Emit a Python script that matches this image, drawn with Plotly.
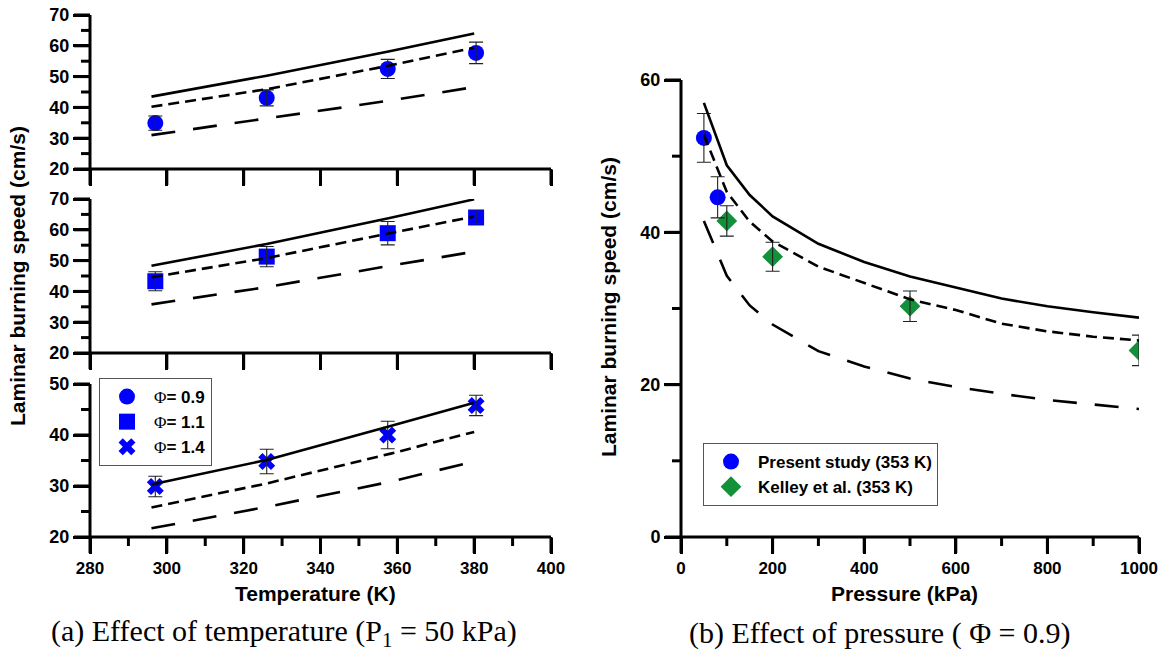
import plotly.graph_objects as go

W, H = 1165, 651

# ---------------- data: (a) effect of temperature (P = 50 kPa) ----------------
T_pts = [297, 326, 357.5, 380.5]
T_line = [296, 326, 358, 380]

# phi = 0.9
exp09 = [34.9, 43.1, 52.5, 57.7]
err09 = [2.3, 2.6, 3.1, 3.5]
solid09 = [43.5, 50.3, 58.2, 64.0]
sdash09 = [40.2, 45.9, 53.6, 59.4]
ldash09 = [31.0, 36.4, 42.2, 46.6]

# phi = 1.1
exp11 = [43.3, 51.3, 58.9, 64.0]
err11 = [3.1, 3.3, 3.8, 2.0]
solid11 = [48.3, 55.4, 63.8, 69.9]
sdash11 = [44.6, 50.8, 58.9, 64.3]
ldash11 = [35.8, 41.4, 48.3, 52.9]

# phi = 1.4
exp14 = [29.9, 34.8, 40.0, 45.8]
err14 = [2.0, 2.4, 2.7, 2.0]
solid14 = [30.3, 35.1, 41.7, 46.3]
sdash14 = [25.8, 30.5, 36.3, 40.6]
ldash14 = [21.7, 25.9, 30.8, 34.8]

# ---------------- data: (b) effect of pressure (phi = 0.9) ----------------
P_line = [50, 100, 150, 200, 300, 400, 500, 600, 700, 800, 900, 1000]
solidP = [57.0, 48.8, 44.9, 42.1, 38.5, 36.1, 34.2, 32.7, 31.3, 30.3, 29.5, 28.8]
sdashP = [52.8, 45.3, 41.4, 38.8, 35.5, 33.3, 31.2, 29.8, 28.0, 27.0, 26.3, 25.8]
ldashP = [41.5, 34.3, 30.4, 27.9, 24.4, 22.4, 20.8, 19.7, 18.8, 18.0, 17.4, 16.8]

P_present = [50, 80]
v_present = [52.4, 44.6]
e_present = [3.2, 2.7]

P_kelley = [100, 200, 500, 1000]
v_kelley = [41.5, 36.8, 30.3, 24.5]
e_kelley = [2.0, 1.9, 2.0, 2.0]

legend_left = ["Φ= 0.9", "Φ= 1.1", "Φ= 1.4"]
legend_right = ["Present study (353 K)", "Kelley et al. (353 K)"]

# ---------------- axis ranges and tick positions ----------------
T_range = [280, 400]
V70_range = [20, 70]
V50_range = [20, 50]
P_range = [0, 1000]
VP_range = [0, 60]
T_major = [280, 300, 320, 340, 360, 380, 400]
T_minor = [290, 310, 330, 350, 370, 390]
V70_major = [20, 30, 40, 50, 60, 70]
V70_minor = [25, 35, 45, 55, 65]
V50_major = [20, 30, 40, 50]
V50_minor = [25, 35, 45]
P_major = [0, 200, 400, 600, 800, 1000]
P_minor = [100, 300, 500, 700, 900]
VP_major = [0, 20, 40, 60]
VP_minor = [10, 30, 50]

# ---------------- styling ----------------
BLUE = "#0000FF"
GREEN = "#13903A"
FONT = "Liberation Sans"
SDASH = "11px,6px"
LDASH = "24px,18px"
LW = 2.6
MAJ, MIN = 16, 9

# plot-area pixel boxes: (left, right, top, bottom)
BOX_TOP = (90, 551, 15, 169)
BOX_MID = (90, 551, 199, 353)
BOX_BOT = (90, 551, 384, 537)
BOX_R = (681, 1139, 80, 537)


def phi_name(s):
    return ("<span style='font-family:Liberation Serif;font-weight:normal'>Φ</span>"
            + s[1:])


fig = go.Figure()

panels = [
    ("x", "y", exp09, err09, solid09, sdash09, ldash09, "circle", legend_left[0]),
    ("x2", "y2", exp11, err11, solid11, sdash11, ldash11, "square", legend_left[1]),
    ("x3", "y3", exp14, err14, solid14, sdash14, ldash14, "x", legend_left[2]),
]

for xa, ya, ex, er, so, sd, ld, sym, nm in panels:
    fig.add_trace(go.Scatter(
        x=T_pts, y=ex, xaxis=xa, yaxis=ya, mode="markers", name=phi_name(nm),
        marker=dict(symbol=sym, size=16 if sym != "x" else 15, color=BLUE,
                    line=dict(width=0)),
        legend="legend", showlegend=True))
    fig.add_trace(go.Scatter(
        x=T_pts, y=ex, xaxis=xa, yaxis=ya, mode="markers", showlegend=False,
        marker=dict(size=2, opacity=0),
        error_y=dict(type="data", array=er, color="#222222", thickness=1.1, width=7)))
    for vals, dash in ((so, "solid"), (sd, SDASH), (ld, LDASH)):
        fig.add_trace(go.Scatter(
            x=T_line, y=vals, xaxis=xa, yaxis=ya, mode="lines", showlegend=False,
            line=dict(color="black", width=LW, dash=dash)))

# right panel
fig.add_trace(go.Scatter(
    x=P_present, y=v_present, xaxis="x4", yaxis="y4", mode="markers",
    name=legend_right[0], legend="legend2",
    marker=dict(symbol="circle", size=16, color=BLUE)))
fig.add_trace(go.Scatter(
    x=P_kelley, y=v_kelley, xaxis="x4", yaxis="y4", mode="markers",
    name=legend_right[1], legend="legend2",
    marker=dict(symbol="diamond", size=16, color=GREEN)))
for px, pv, pe in ((P_present, v_present, e_present), (P_kelley, v_kelley, e_kelley)):
    fig.add_trace(go.Scatter(
        x=px, y=pv, xaxis="x4", yaxis="y4", mode="markers", showlegend=False,
        marker=dict(size=2, opacity=0),
        error_y=dict(type="data", array=pe, color="#222222", thickness=1.1, width=7)))
for vals, dash in ((solidP, "solid"), (sdashP, SDASH), (ldashP, LDASH)):
    fig.add_trace(go.Scatter(
        x=P_line, y=vals, xaxis="x4", yaxis="y4", mode="lines", showlegend=False,
        line=dict(color="black", width=LW, dash=dash)))


def px_x(p):
    return p / W


def px_y(p):
    return 1 - p / H


def xdom(box):
    return [px_x(box[0]), px_x(box[1])]


def ydom(box):
    return [px_y(box[3]), px_y(box[2])]


def axis(domain, rng, vals, anchor, labels=True, lblsize=17):
    # showline off (it hides outside ticks here); no minor (it hides ticks too)
    return dict(domain=domain, range=rng, anchor=anchor, showgrid=False, zeroline=False,
                showline=False, ticks="outside", ticklen=MAJ, tickwidth=3,
                tickcolor="black", tickmode="array", tickvals=vals,
                showticklabels=labels,
                tickfont=dict(family=FONT, size=lblsize, color="black", weight="bold"))


fig.update_layout(
    width=W, height=H, margin=dict(l=0, r=0, t=0, b=0, pad=0, autoexpand=False),
    paper_bgcolor="white", plot_bgcolor="white",
    xaxis=axis(xdom(BOX_TOP), T_range, T_major, "y", labels=False),
    yaxis=axis(ydom(BOX_TOP), V70_range, V70_major, "x", lblsize=18),
    xaxis2=axis(xdom(BOX_MID), T_range, T_major, "y2", labels=False),
    yaxis2=axis(ydom(BOX_MID), V70_range, V70_major, "x2", lblsize=18),
    xaxis3=axis(xdom(BOX_BOT), T_range, T_major, "y3"),
    yaxis3=axis(ydom(BOX_BOT), V50_range, V50_major, "x3", lblsize=18),
    xaxis4=axis(xdom(BOX_R), P_range, P_major, "y4"),
    yaxis4=axis(ydom(BOX_R), VP_range, VP_major, "x4", lblsize=18),
    legend=dict(x=px_x(99), y=px_y(378), xanchor="left", yanchor="top",
                bgcolor="white", bordercolor="#555555", borderwidth=1,
                font=dict(family=FONT, size=17, color="black", weight="bold"),
                itemsizing="trace", itemwidth=44, tracegroupgap=0),
    legend2=dict(x=px_x(703), y=px_y(443), xanchor="left", yanchor="top",
                 bgcolor="white", bordercolor="#555555", borderwidth=1,
                 font=dict(family=FONT, size=17, color="black", weight="bold"),
                 itemsizing="trace", itemwidth=44),
    showlegend=True,
)

# axis lines in domain coordinates; ticks in paper coordinates (never clipped)
shapes = []
LINE = dict(color="black", width=3)
subplots = [
    ("x", "y", BOX_TOP, T_range, V70_range, T_major, [], V70_major, V70_minor),
    ("x2", "y2", BOX_MID, T_range, V70_range, T_major, [], V70_major, V70_minor),
    ("x3", "y3", BOX_BOT, T_range, V50_range, T_major, T_minor, V50_major, V50_minor),
    ("x4", "y4", BOX_R, P_range, VP_range, P_major, P_minor, VP_major, VP_minor),
]
for xa, ya, box, xr_, yr_, xmaj, xmin, ymaj, ymin in subplots:
    L, R, T, B = box
    xd, yd = f"{xa} domain", f"{ya} domain"
    shapes.append(dict(type="line", xref=xd, yref=yd, x0=0, x1=0, y0=0, y1=1,
                       line=LINE, layer="above"))
    shapes.append(dict(type="line", xref=xd, yref=yd, x0=0, x1=1, y0=0, y1=0,
                       line=LINE, layer="above"))
    for vals, ln in ((xmaj, MAJ), (xmin, MIN)):
        for v in vals:
            pxv = L + (v - xr_[0]) / (xr_[1] - xr_[0]) * (R - L)
            shapes.append(dict(type="line", xref="paper", yref="paper",
                               x0=px_x(pxv), x1=px_x(pxv),
                               y0=px_y(B), y1=px_y(B + ln), line=LINE, layer="above"))
    for vals, ln in ((ymaj, MAJ), (ymin, MIN)):
        for v in vals:
            pyv = B - (v - yr_[0]) / (yr_[1] - yr_[0]) * (B - T)
            shapes.append(dict(type="line", xref="paper", yref="paper",
                               x0=px_x(L - ln), x1=px_x(L),
                               y0=px_y(pyv), y1=px_y(pyv), line=LINE, layer="above"))
fig.update_layout(shapes=shapes)

ann = []
title_font = dict(family=FONT, size=21, color="black", weight="bold")


def add_ann(text, x, y, font, angle=0):
    ann.append(dict(text=text, x=px_x(x), y=px_y(y), xref="paper", yref="paper",
                    xanchor="center", yanchor="middle", showarrow=False,
                    textangle=angle, font=font))


add_ann("Laminar burning speed (cm/s)", 18, 276, title_font, -90)
add_ann("Laminar burning speed (cm/s)", 608, 307, title_font, -90)
add_ann("Temperature (K)", 315, 593, title_font)
add_ann("Pressure (kPa)", 904, 593, title_font)
cap_font = dict(family="Liberation Serif", size=30, color="black")
add_ann("(a) Effect of temperature (P<sub>1</sub> = 50 kPa)", 284, 633, cap_font)
add_ann("(b) Effect of pressure ( Φ = 0.9)", 880, 633, cap_font)
fig.update_layout(annotations=ann)

fig.write_html("out.html")
